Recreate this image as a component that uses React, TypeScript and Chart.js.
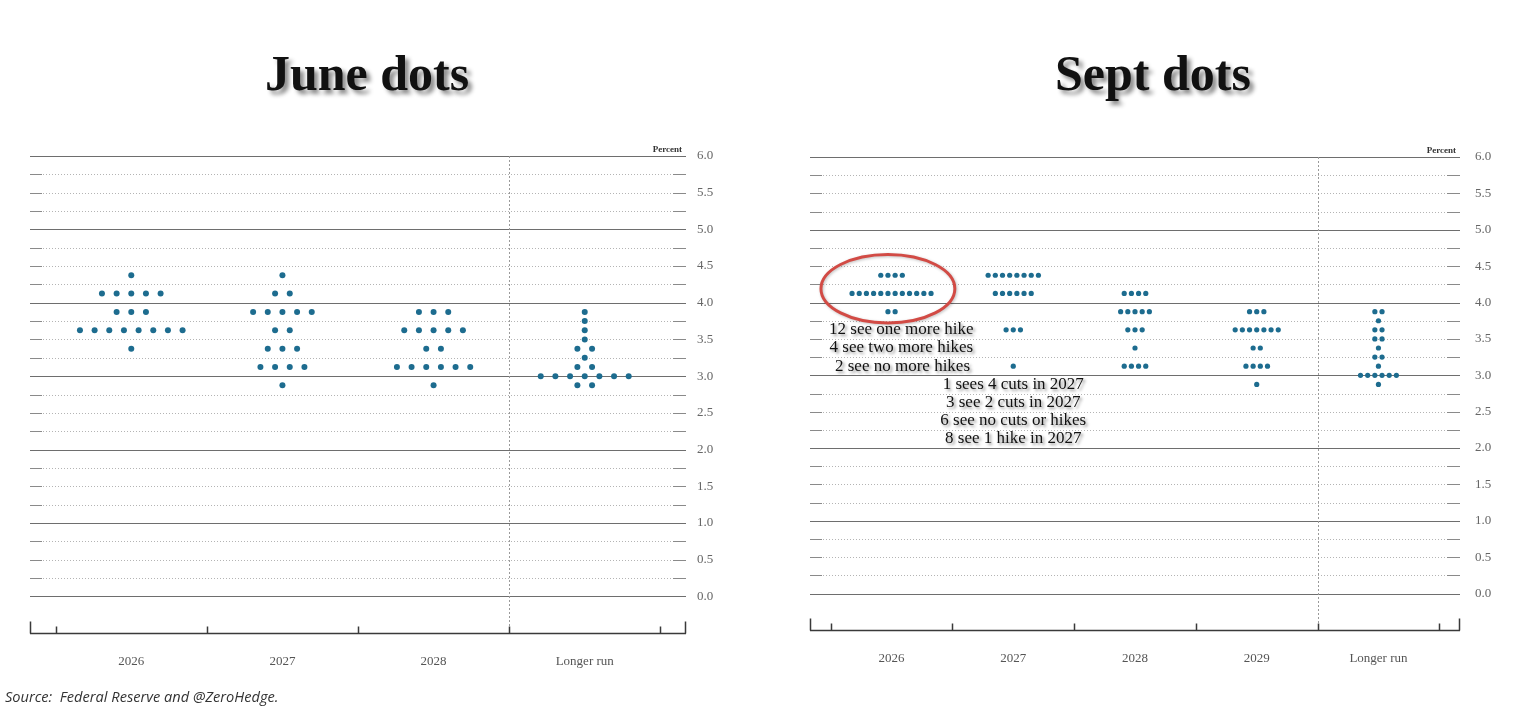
import React, { useEffect, useRef } from 'react';
import { Chart, registerables } from 'chart.js';

Chart.register(...registerables);

// ---------- DATA ----------
const juneCategories = ['2026', '2027', '2028', 'Longer run'];
// [rate, number of participants]
const june2026 = [[4.375, 1], [4.125, 5], [3.875, 3], [3.625, 8], [3.375, 1]];
const june2027 = [[4.375, 1], [4.125, 2], [3.875, 5], [3.625, 2], [3.375, 3], [3.125, 4], [2.875, 1]];
const june2028 = [[3.875, 3], [3.625, 5], [3.375, 2], [3.125, 6], [2.875, 1]];
const juneLongerRun = [[3.875, 1], [3.75, 1], [3.625, 1], [3.5, 1], [3.375, 2], [3.25, 1], [3.125, 2], [3.0, 7], [2.875, 2]];

const septCategories = ['2026', '2027', '2028', '2029', 'Longer run'];
const sept2026 = [[4.375, 4], [4.125, 12], [3.875, 2]];
const sept2027 = [[4.375, 8], [4.125, 6], [3.625, 3], [3.125, 1]];
const sept2028 = [[4.125, 4], [3.875, 5], [3.625, 3], [3.375, 1], [3.125, 4]];
const sept2029 = [[3.875, 3], [3.625, 7], [3.375, 2], [3.125, 4], [2.875, 1]];
const septLongerRun = [[3.875, 2], [3.75, 1], [3.625, 2], [3.5, 2], [3.375, 1], [3.25, 2], [3.125, 1], [3.0, 6], [2.875, 1]];

const yTickLabels = ['0.0', '0.5', '1.0', '1.5', '2.0', '2.5', '3.0', '3.5', '4.0', '4.5', '5.0', '5.5', '6.0'];

const septNoteTexts = [
  '12 see one more hike',
  '4 see two more hikes',
  '2 see no more hikes',
  '1 sees 4 cuts in 2027',
  '3 see 2 cuts in 2027',
  '6 see no cuts or hikes',
  '8 see 1 hike in 2027',
];
const septNoteX = [0.08, 0.08, 0.09, 1, 1, 1, 1];
const septNoteY = [3.625, 3.375, 3.125, 2.875, 2.625, 2.375, 2.125];
// highlighted ellipse (center x, center y, radius x, radius y) in data units
const septCircle = [-0.03, 4.19, 0.55, 0.47];

const DOT_COLOR = '#1d6c8f';

// ---------- helpers ----------
function buildPoints(columns: number[][][], spacing: number) {
  const pts: { x: number; y: number }[] = [];
  columns.forEach((col, ci) => {
    col.forEach(([rate, count]) => {
      for (let k = 0; k < count; k++) {
        pts.push({ x: ci + (k - (count - 1) / 2) * spacing, y: rate });
      }
    });
  });
  return pts;
}

function framePlugin(n: number) {
  return {
    id: 'frame',
    beforeDatasetsDraw(chart: any) {
      const { ctx, chartArea: a, scales } = chart;
      const x = scales.x;
      const y = scales.y;
      const L = Math.round(a.left);
      const R = Math.round(a.right);
      ctx.save();
      for (let i = 0; i <= 24; i++) {
        const v = i * 0.25;
        const py = Math.round(y.getPixelForValue(v)) + 0.5;
        if (i % 4 === 0) {
          ctx.setLineDash([]);
          ctx.strokeStyle = '#6e6e6e';
          ctx.lineWidth = 1.2;
          ctx.beginPath();
          ctx.moveTo(L, py);
          ctx.lineTo(R, py);
          ctx.stroke();
        } else {
          ctx.setLineDash([1, 2]);
          ctx.strokeStyle = '#b4b4b4';
          ctx.lineWidth = 1;
          ctx.beginPath();
          ctx.moveTo(L + 13, py);
          ctx.lineTo(R - 14, py);
          ctx.stroke();
          ctx.setLineDash([]);
          ctx.strokeStyle = '#8a8a8a';
          ctx.beginPath();
          ctx.moveTo(L, py);
          ctx.lineTo(L + 12, py);
          ctx.moveTo(R - 13, py);
          ctx.lineTo(R, py);
          ctx.stroke();
        }
      }
      // separator before longer run
      const sx = Math.round(x.getPixelForValue(n - 1.5)) + 0.5;
      ctx.setLineDash([2, 2]);
      ctx.strokeStyle = '#9a9a9a';
      ctx.lineWidth = 1;
      ctx.beginPath();
      ctx.moveTo(sx, a.top);
      ctx.lineTo(sx, a.bottom);
      ctx.stroke();
      // bottom axis
      ctx.setLineDash([]);
      const by = Math.round(a.bottom) + 0.5;
      ctx.strokeStyle = '#3a3a3a';
      ctx.lineWidth = 1.5;
      ctx.beginPath();
      ctx.moveTo(L, by);
      ctx.lineTo(R, by);
      ctx.moveTo(L + 0.5, by);
      ctx.lineTo(L + 0.5, by - 12);
      ctx.moveTo(R - 0.5, by);
      ctx.lineTo(R - 0.5, by - 12);
      for (let b = 0; b <= n; b++) {
        const bx = Math.round(x.getPixelForValue(b - 0.5)) + 0.5;
        ctx.moveTo(bx, by);
        ctx.lineTo(bx, by - 7);
      }
      ctx.stroke();
      // Percent label
      ctx.fillStyle = '#333';
      ctx.font = 'bold 9px "Liberation Serif"';
      ctx.textAlign = 'right';
      ctx.textBaseline = 'alphabetic';
      ctx.fillText('Percent', R - 4, a.top - 4);
      ctx.restore();
    },
  };
}

const notesPlugin = {
  id: 'notes',
  afterDatasetsDraw(chart: any) {
    const { ctx, scales } = chart;
    const x = scales.x;
    const y = scales.y;
    ctx.save();
    // ellipse
    const [cx, cy, rx, ry] = septCircle;
    const pcx = x.getPixelForValue(cx);
    const pcy = y.getPixelForValue(cy);
    const prx = Math.abs(x.getPixelForValue(cx + rx) - pcx);
    const pry = Math.abs(y.getPixelForValue(cy + ry) - pcy);
    ctx.shadowColor = 'rgba(0,0,0,0.25)';
    ctx.shadowBlur = 3;
    ctx.shadowOffsetX = 1;
    ctx.shadowOffsetY = 1;
    ctx.strokeStyle = '#d24b45';
    ctx.lineWidth = 3;
    ctx.beginPath();
    ctx.ellipse(pcx, pcy, prx, pry, 0, 0, Math.PI * 2);
    ctx.stroke();
    // texts
    ctx.font = '17px "Liberation Serif"';
    ctx.textAlign = 'center';
    ctx.textBaseline = 'middle';
    ctx.fillStyle = '#111';
    ctx.shadowColor = 'rgba(0,0,0,0.45)';
    ctx.shadowBlur = 3;
    ctx.shadowOffsetX = 2;
    ctx.shadowOffsetY = 2;
    septNoteTexts.forEach((t, i) => {
      ctx.fillText(t, x.getPixelForValue(septNoteX[i]), y.getPixelForValue(septNoteY[i]));
    });
    ctx.restore();
  },
};

interface PanelProps {
  categories: string[];
  columns: number[][][];
  spacing: number;
  radius: number;
  width: number;
  height: number;
  padLeft: number;
  padTop: number;
  yWidth: number;
  xHeight: number;
  yPad: number;
  withNotes?: boolean;
}

function DotPanel(p: PanelProps) {
  const ref = useRef<HTMLCanvasElement | null>(null);
  useEffect(() => {
    if (!ref.current) return;
    const n = p.categories.length;
    const plugins: any[] = [framePlugin(n)];
    if (p.withNotes) plugins.push(notesPlugin);
    const chart = new Chart(ref.current, {
      type: 'scatter',
      data: {
        datasets: [
          {
            data: buildPoints(p.columns, p.spacing),
            backgroundColor: DOT_COLOR,
            borderWidth: 0,
            pointRadius: p.radius,
            pointHoverRadius: p.radius,
          },
        ],
      },
      options: {
        animation: false,
        responsive: false,
        devicePixelRatio: 1,
        events: [],
        layout: { padding: { left: p.padLeft, top: p.padTop, right: 0, bottom: 0 } },
        plugins: { legend: { display: false }, tooltip: { enabled: false }, title: { display: false } },
        scales: {
          x: {
            type: 'linear',
            min: -0.67,
            max: n - 1 + 0.67,
            afterBuildTicks: (s: any) => {
              s.ticks = p.categories.map((_, i) => ({ value: i }));
            },
            afterFit: (s: any) => {
              s.height = p.xHeight;
            },
            grid: { display: false, drawTicks: false },
            border: { display: false },
            ticks: {
              autoSkip: false,
              maxRotation: 0,
              padding: 21,
              color: '#555',
              font: { family: '"Liberation Serif"', size: 13 },
              callback: (v: any) => p.categories[Math.round(Number(v))] ?? '',
            },
          },
          y: {
            type: 'linear',
            position: 'right',
            min: -0.5,
            max: 6,
            afterBuildTicks: (s: any) => {
              s.ticks = yTickLabels.map((l) => ({ value: parseFloat(l) }));
            },
            afterFit: (s: any) => {
              s.width = p.yWidth;
            },
            grid: { display: false, drawTicks: false },
            border: { display: false },
            ticks: {
              autoSkip: false,
              padding: p.yPad,
              color: '#666',
              font: { family: '"Liberation Serif"', size: 13 },
              callback: (v: any) => yTickLabels.find((l) => parseFloat(l) === Number(v)) ?? '',
            },
          },
        },
      },
      plugins,
    } as any);
    return () => chart.destroy();
  }, []);
  return <canvas ref={ref} width={p.width} height={p.height} style={{ width: p.width, height: p.height, display: 'block' }} />;
}

const titleStyle: React.CSSProperties = {
  position: 'absolute',
  top: 48,
  width: 400,
  textAlign: 'center',
  fontFamily: '"Liberation Serif", serif',
  fontWeight: 'bold',
  fontSize: 50,
  lineHeight: '50px',
  color: '#111',
  textShadow: '4px 4px 4px rgba(0,0,0,0.45)',
  whiteSpace: 'nowrap',
};

export default function App() {
  return (
    <div style={{ position: 'absolute', left: 0, top: 0, width: 1523, height: 710, background: '#fff', overflow: 'hidden' }}>
      <div style={{ ...titleStyle, left: 367 - 200 }}>June dots</div>
      <div style={{ ...titleStyle, left: 1153 - 200 }}>Sept dots</div>
      <div style={{ position: 'absolute', left: 0, top: 120 }}>
        <DotPanel
          categories={juneCategories}
          columns={[june2026, june2027, june2028, juneLongerRun]}
          spacing={0.097}
          radius={3}
          width={760}
          height={570}
          padLeft={30}
          padTop={36}
          yWidth={74}
          xHeight={57}
          yPad={11}
        />
      </div>
      <div style={{ position: 'absolute', left: 770, top: 120 }}>
        <DotPanel
          categories={septCategories}
          columns={[sept2026, sept2027, sept2028, sept2029, septLongerRun]}
          spacing={0.059}
          radius={2.6}
          width={753}
          height={570}
          padLeft={40}
          padTop={37}
          yWidth={63}
          xHeight={60}
          yPad={15}
          withNotes
        />
      </div>
      <div
        style={{
          position: 'absolute',
          left: 5,
          top: 686,
          fontFamily: '"Open Sans", sans-serif',
          fontStyle: 'italic',
          fontSize: 14.6,
          lineHeight: '20px',
          color: '#333',
          whiteSpace: 'pre',
        }}
      >
        {'Source:  Federal Reserve and @ZeroHedge.'}
      </div>
    </div>
  );
}
